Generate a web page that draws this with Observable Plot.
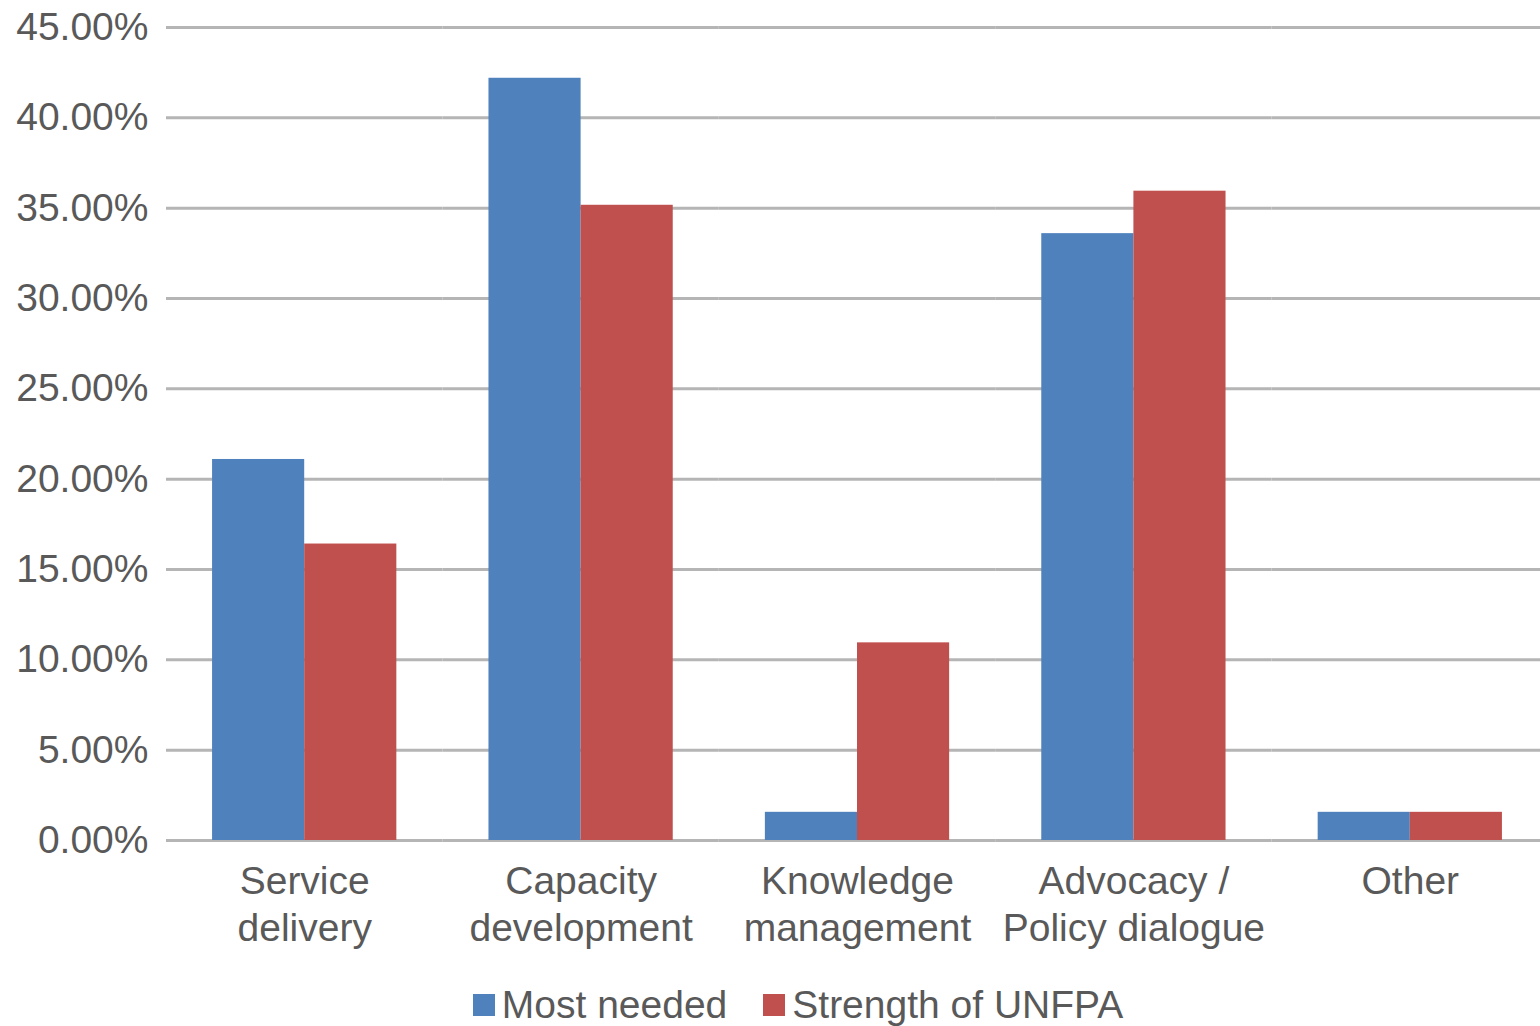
<!DOCTYPE html>
<html><head><meta charset="utf-8">
<script src="https://cdn.jsdelivr.net/npm/d3@7"></script>
<script src="https://cdn.jsdelivr.net/npm/@observablehq/plot@0.6"></script>
<style>
html,body{margin:0;padding:0;background:#fff;overflow:hidden;width:1540px;height:1026px;}
#chart{position:absolute;left:0;top:0;width:1540px;}
#chart svg{max-width:none !important;}
#legend{position:absolute;top:985px;left:0;width:1540px;display:flex;justify-content:center;padding-left:56px;box-sizing:border-box;
  font-family:'Liberation Sans',Arial,sans-serif;font-size:39px;line-height:39px;color:#595959;}
.item{display:flex;align-items:center;margin:0 18px;}
.sw{width:22px;height:22px;margin-right:7px;}
</style></head><body>
<div id="chart"></div><div id="legend"></div>
<script>
const categories = ["Service delivery","Capacity development","Knowledge management","Advocacy / Policy dialogue","Other"];
const categoryLabels = ["Service\ndelivery","Capacity\ndevelopment","Knowledge\nmanagement","Advocacy /\nPolicy dialogue","Other"];
const seriesNames = ["Most needed","Strength of UNFPA"];
const mostNeeded = [21.09, 42.19, 1.56, 33.59, 1.56];
const strengthOfUNFPA = [16.41, 35.16, 10.94, 35.94, 1.56];
const seriesColors = ["#4F81BD","#C0504D"];
const yTicks = [0,5,10,15,20,25,30,35,40,45];

const rows = categories.flatMap((c,i)=>[
  {category:c, series:seriesNames[0], value:mostNeeded[i]},
  {category:c, series:seriesNames[1], value:strengthOfUNFPA[i]}
]);

const chart = Plot.plot({
  width:1540, height:966, marginLeft:166, marginRight:-8, marginTop:27, marginBottom:126,
  style:{fontFamily:"'Liberation Sans', Arial, sans-serif", fontSize:"39px", color:"#595959", background:"#fff", maxWidth:"none"},
  facet:{data:rows, x:"category", label:null},
  fx:{domain:categories, padding:0, round:false, axis:null, label:null},
  x:{domain:seriesNames, paddingInner:0, paddingOuter:0.5, round:false, axis:null, label:null},
  y:{domain:[0,45], ticks:yTicks, tickFormat:d=>d.toFixed(2)+"%", tickSize:0, tickPadding:18, label:null},
  color:{domain:seriesNames, range:seriesColors},
  marks:[
    Plot.ruleY(yTicks,{stroke:"#b5b5b5", strokeWidth:3}),
    Plot.barY(rows,{x:"series", y:"value", fill:"series"}),
    Plot.text(rows, Plot.selectFirst({text:d=>categoryLabels[categories.indexOf(d.category)], frameAnchor:"bottom", lineAnchor:"top", dy:20, lineHeight:1.2, fill:"#595959"}))
  ]
});
document.getElementById("chart").appendChild(chart);

const legend = document.getElementById("legend");
seriesNames.forEach((s,i)=>{
  const it = document.createElement("div"); it.className="item";
  const sw = document.createElement("div"); sw.className="sw"; sw.style.background=seriesColors[i];
  const t = document.createElement("span"); t.textContent=s;
  it.appendChild(sw); it.appendChild(t); legend.appendChild(it);
});
</script>
</body></html>
